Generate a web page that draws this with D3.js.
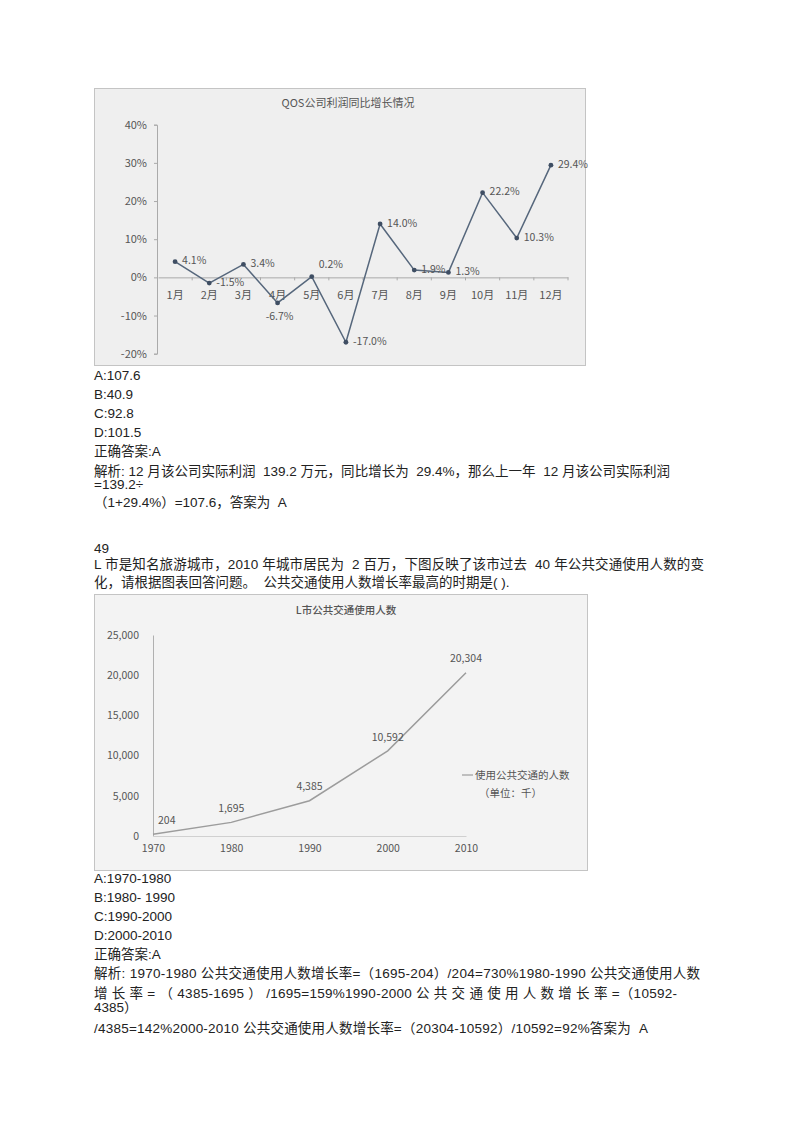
<!DOCTYPE html>
<html lang="zh">
<head>
  <meta charset="UTF-8">
  <title>QOS / L市 charts</title>
  <script src="https://d3js.org/d3.v7.min.js"></script>
  <style>
    body { margin: 0; background: #fff; }
    svg { display: block; }
    .page-text { font-family: "Liberation Sans", "Noto Sans CJK SC", sans-serif; font-size: 13.5px; fill: #222; }
    .chart-text { font-family: "Noto Sans CJK SC", "Open Sans", sans-serif; fill: #555; }
  </style>
</head>
<body>
  <svg id="page" width="800" height="1132"></svg>

  <script>
    // chart 1: QOS monthly profit growth (%)
    const months = ["1月", "2月", "3月", "4月", "5月", "6月", "7月", "8月", "9月", "10月", "11月", "12月"];
    const growth = [4.1, -1.5, 3.4, -6.7, 0.2, -17.0, 14.0, 1.9, 1.3, 22.2, 10.3, 29.4];
    const growthLabelSide = ["right", "right", "right", "below", "above", "right", "right", "right", "right", "right", "right", "right"];
    const growthTicks = [-20, -10, 0, 10, 20, 30, 40];

    // chart 2: L city public transport users (thousands)
    const years = [1970, 1980, 1990, 2000, 2010];
    const riders = [204, 1695, 4385, 10592, 20304];
    const riderTicks = [0, 5000, 10000, 15000, 20000, 25000];

    const svg = d3.select("#page");

    // ---------- page text ----------
    const lines = [
      { t: "A:107.6", y: 380 },
      { t: "B:40.9", y: 399 },
      { t: "C:92.8", y: 418 },
      { t: "D:101.5", y: 437 },
      { t: "正确答案:A", y: 456 },
      { t: "解析: 12 月该公司实际利润  139.2 万元，同比增长为  29.4%，那么上一年  12 月该公司实际利润", y: 476, w: 576 },
      { t: "=139.2÷", y: 489 },
      { t: "（1+29.4%）=107.6，答案为  A", y: 507 },
      { t: "49", y: 553 },
      { t: "L 市是知名旅游城市，2010 年城市居民为  2 百万，下图反映了该市过去  40 年公共交通使用人数的变", y: 569, w: 610 },
      { t: "化，请根据图表回答问题。  公共交通使用人数增长率最高的时期是( ).", y: 587 },
      { t: "A:1970-1980", y: 883 },
      { t: "B:1980- 1990", y: 902 },
      { t: "C:1990-2000", y: 921 },
      { t: "D:2000-2010", y: 940 },
      { t: "正确答案:A", y: 959 },
      { t: "解析: 1970-1980 公共交通使用人数增长率=（1695-204）/204=730%1980-1990 公共交通使用人数", y: 978, w: 606 },
      { t: "增 长 率 = （ 4385-1695 ） /1695=159%1990-2000 公 共 交 通 使 用 人 数 增 长 率 =（10592-", y: 998, w: 583 },
      { t: "4385）", y: 1012 },
      { t: "/4385=142%2000-2010 公共交通使用人数增长率=（20304-10592）/10592=92%答案为  A", y: 1033, w: 554 }
    ];

    svg.append("g").selectAll("text")
      .data(lines)
      .join("text")
      .attr("class", "page-text")
      .attr("x", 94)
      .attr("y", d => d.y)
      .attr("xml:space", "preserve")
      .style("white-space", "pre")
      .each(function(d) {
        if (d.w) d3.select(this).attr("textLength", d.w).attr("lengthAdjust", "spacing");
      })
      .text(d => d.t);

    // ---------- chart 1 ----------
    const c1 = svg.append("g");
    c1.append("rect")
      .attr("x", 94.5).attr("y", 88.5).attr("width", 491).attr("height", 277)
      .attr("fill", "#efefef").attr("stroke", "#c4c4c4");

    c1.append("text").attr("class", "chart-text")
      .attr("x", 348).attr("y", 107).attr("text-anchor", "middle")
      .style("font-size", "11px")
      .text("QOS公司利润同比增长情况");

    const x1 = d3.scaleBand().domain(months).range([158, 568]);
    const y1 = d3.scaleLinear().domain([-20, 40]).range([353.7, 124.7]);

    const yAxis1 = c1.append("g")
      .attr("transform", "translate(157,0)")
      .call(d3.axisLeft(y1).tickValues(growthTicks).tickSize(3).tickPadding(7).tickFormat(d => d + "%"));
    yAxis1.selectAll("path, line").attr("stroke", "#aaa");
    yAxis1.selectAll("text").attr("class", "chart-text").style("font-size", "11px").attr("font-family", null);

    const xAxis1 = c1.append("g")
      .attr("transform", `translate(0,${y1(0)})`)
      .call(d3.axisBottom(x1).tickSize(0).tickPadding(14));
    xAxis1.select("path").attr("stroke", "#aaa");
    xAxis1.selectAll("text").attr("class", "chart-text").style("font-size", "11px").attr("font-family", null);

    // category boundary ticks
    c1.append("g").selectAll("line")
      .data(months.slice(1).concat([null]))
      .join("line")
      .attr("x1", d => d ? x1(d) : x1.range()[1])
      .attr("x2", d => d ? x1(d) : x1.range()[1])
      .attr("y1", y1(0)).attr("y2", y1(0) + 3)
      .attr("stroke", "#aaa");

    const pts1 = months.map((m, i) => ({ m, v: growth[i], side: growthLabelSide[i] }));

    c1.append("path")
      .datum(pts1)
      .attr("fill", "none")
      .attr("stroke", "#56677c")
      .attr("stroke-width", 1.5)
      .attr("d", d3.line().x(d => x1(d.m) + x1.bandwidth() / 2).y(d => y1(d.v)));

    c1.append("g").selectAll("circle")
      .data(pts1)
      .join("circle")
      .attr("cx", d => x1(d.m) + x1.bandwidth() / 2)
      .attr("cy", d => y1(d.v))
      .attr("r", 2.4)
      .attr("fill", "#3f4e63");

    c1.append("g").selectAll("text")
      .data(pts1)
      .join("text")
      .attr("class", "chart-text")
      .style("font-size", "10.5px")
      .attr("x", d => x1(d.m) + x1.bandwidth() / 2 + (d.side === "below" ? 2 : 7))
      .attr("y", d => y1(d.v) + (d.side === "below" ? 13 : d.side === "above" ? -12 : -1))
      .attr("dy", "0.35em")
      .attr("text-anchor", d => d.side === "below" ? "middle" : "start")
      .text(d => d.v.toFixed(1) + "%");

    // ---------- chart 2 ----------
    const c2 = svg.append("g");
    c2.append("rect")
      .attr("x", 94.5).attr("y", 594.5).attr("width", 493).attr("height", 276)
      .attr("fill", "#f3f3f3").attr("stroke", "#c4c4c4");

    c2.append("text").attr("class", "chart-text")
      .attr("x", 346).attr("y", 614).attr("text-anchor", "middle")
      .style("font-size", "10.5px")
      .style("font-weight", 500)
      .text("L市公共交通使用人数");

    const x2 = d3.scaleLinear().domain([1970, 2010]).range([153, 466]);
    const y2 = d3.scaleLinear().domain([0, 25000]).range([836, 635]);

    const yAxis2 = c2.append("g")
      .attr("transform", "translate(153,0)")
      .call(d3.axisLeft(y2).tickValues(riderTicks).tickSize(0).tickPadding(14).tickFormat(d3.format(",")));
    yAxis2.select("path").attr("stroke", "#b0b0b0");
    yAxis2.selectAll("text").attr("class", "chart-text").style("font-size", "10.5px").attr("font-family", null);

    const xAxis2 = c2.append("g")
      .attr("transform", "translate(0,836)")
      .call(d3.axisBottom(x2).tickValues(years).tickSize(0).tickPadding(9).tickFormat(d3.format("d")));
    xAxis2.select("path").attr("stroke", "#d0d0d0");
    xAxis2.selectAll("text").attr("class", "chart-text").style("font-size", "10.5px").attr("font-family", null);

    const pts2 = years.map((yr, i) => ({ yr, v: riders[i] }));

    c2.append("path")
      .datum(pts2)
      .attr("fill", "none")
      .attr("stroke", "#9c9c9c")
      .attr("stroke-width", 1.5)
      .attr("d", d3.line().x(d => x2(d.yr)).y(d => y2(d.v)));

    c2.append("g").selectAll("text")
      .data(pts2)
      .join("text")
      .attr("class", "chart-text")
      .style("font-size", "10.5px")
      .attr("x", (d, i) => x2(d.yr) + (i === 0 ? 5 : 0))
      .attr("y", d => y2(d.v) - 14)
      .attr("dy", "0.35em")
      .attr("text-anchor", (d, i) => i === 0 ? "start" : "middle")
      .text(d => d3.format(",")(d.v));

    // legend
    const lg = c2.append("g");
    lg.append("line")
      .attr("x1", 462).attr("x2", 473).attr("y1", 775).attr("y2", 775)
      .attr("stroke", "#9c9c9c").attr("stroke-width", 1.2);
    lg.append("text").attr("class", "chart-text")
      .attr("x", 475).attr("y", 775).attr("dy", "0.35em")
      .style("font-size", "10.5px")
      .text("使用公共交通的人数");
    lg.append("text").attr("class", "chart-text")
      .attr("x", 479).attr("y", 793).attr("dy", "0.35em")
      .style("font-size", "10.5px")
      .text("（单位：千）");
  </script>
</body>
</html>
